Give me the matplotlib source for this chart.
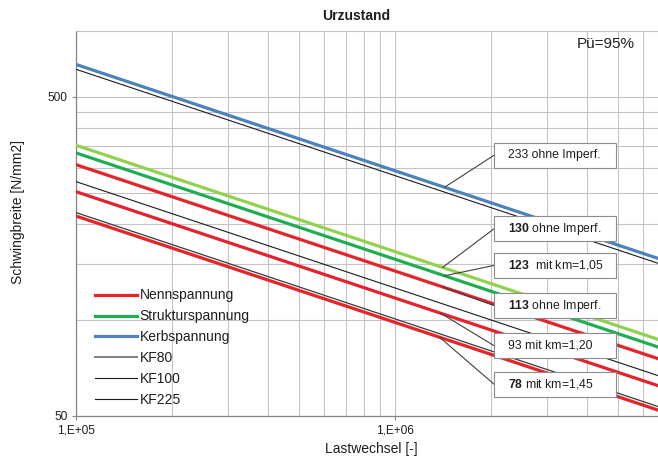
import numpy as np
import matplotlib
matplotlib.use('Agg')
import matplotlib.pyplot as plt
from matplotlib.lines import Line2D
from matplotlib.patches import Rectangle

plt.rcParams['font.family'] = 'Liberation Sans'
plt.rcParams['mathtext.fontset'] = 'custom'
plt.rcParams['mathtext.rm'] = 'Liberation Sans'
plt.rcParams['mathtext.bf'] = 'Liberation Sans:bold'

# Wöhlerlinien (m=3), Werte bei N = 1e5, 2e6, 1e7
cycles = [1e5, 2e6, 1e7]
kerb_233 = [632.4, 233, 136.3]
kf225 = [610.7, 225, 131.6]
struktur_130 = [352.9, 130, 76.0]
struktur_123 = [333.9, 123, 71.9]
nenn_113 = [306.7, 113, 66.1]
kf100 = [271.4, 100, 58.5]
nenn_93 = [252.4, 93, 54.4]
kf80 = [217.1, 80, 46.8]
nenn_78 = [211.7, 78, 45.6]

x_major = [1e5, 1e6]
x_major_labels = ['1,E+05', '1,E+06']
x_minor = [2e5, 3e5, 4e5, 5e5, 6e5, 7e5, 8e5, 9e5, 2e6, 3e6, 4e6, 5e6, 6e6]
y_major = [50, 500]
y_minor = [100, 150, 200, 250, 300, 350, 400, 450]

# Beschriftungen: (Text, Linie, N am Anschlusspunkt, Kasten y in Achsenanteilen)
notes = [
    (r'233 ohne Imperf.', kerb_233, 1.43e6, 0.677),
    (r'$\mathbf{130}$ ohne Imperf.', struktur_130, 1.41e6, 0.486),
    (r'$\mathbf{123}$  mit km=1,05', struktur_123, 1.43e6, 0.391),
    (r'$\mathbf{113}$ ohne Imperf.', nenn_113, 1.41e6, 0.287),
    (r'93 mit km=1,20', nenn_93, 1.39e6, 0.183),
    (r'$\mathbf{78}$ mit km=1,45', nenn_78, 1.38e6, 0.083),
]

RED = '#e4232a'
GREEN = '#1faf52'
LGREEN = '#92d050'
BLUE = '#4f81bd'
TXT = '#1e1e1e'

fig = plt.figure(figsize=(6.58, 4.59), dpi=100)
ax = fig.add_axes([76/658, 1-416/459, 582/658, 385/459])
ax.set_xscale('log')
ax.set_yscale('log')
ax.set_xlim(1e5, 6.676e6)
ax.set_ylim(50, 805)

lw = 2.3
ax.plot(cycles, kerb_233, color=BLUE, lw=lw, zorder=3)
ax.plot(cycles, kf225, color='#1a1a1a', lw=0.8, zorder=3)
ax.plot(cycles, struktur_130, color=LGREEN, lw=lw, zorder=3)
ax.plot(cycles, struktur_123, color=GREEN, lw=lw, zorder=3)
ax.plot(cycles, nenn_113, color=RED, lw=lw, zorder=3)
ax.plot(cycles, kf100, color='#1a1a1a', lw=0.8, zorder=3)
ax.plot(cycles, nenn_93, color=RED, lw=lw, zorder=3)
ax.plot(cycles, kf80, color='#3a3a3a', lw=0.9, zorder=3)
ax.plot(cycles, nenn_78, color=RED, lw=lw, zorder=3)

# Achsen und Gitter
ax.set_xticks(x_major)
ax.set_xticklabels(x_major_labels)
ax.set_xticks(x_minor, minor=True)
ax.set_yticks(y_major)
ax.set_yticklabels([str(v) for v in y_major])
ax.set_yticks(y_minor, minor=True)
ax.xaxis.set_minor_formatter(matplotlib.ticker.NullFormatter())
ax.yaxis.set_minor_formatter(matplotlib.ticker.NullFormatter())
ax.grid(True, which='both', color='#c4c4c4', lw=0.8, zorder=0)
ax.tick_params(which='major', length=3, width=0.8, color='#868686', labelsize=8.6,
               labelcolor=TXT, pad=3)
ax.tick_params(which='minor', length=0)
for s in ['left', 'bottom']:
    ax.spines[s].set_color('#868686')
    ax.spines[s].set_linewidth(0.9)
ax.spines['top'].set_color('#c4c4c4')
ax.spines['top'].set_linewidth(0.8)
ax.spines['right'].set_visible(False)

# Kästen mit Verbindungslinien
box_x, box_w, box_h = 0.718, 0.2096, 0.065
for text, line, n, by in notes:
    s = 10 ** np.interp(np.log10(n), np.log10(cycles), np.log10(line))
    ax.annotate('', xy=(n, s), xycoords='data', xytext=(box_x, by), textcoords='axes fraction',
                arrowprops=dict(arrowstyle='-', color='#404040', lw=0.8, shrinkA=0, shrinkB=0),
                zorder=4)
    ax.add_patch(Rectangle((box_x, by - box_h/2), box_w, box_h, transform=ax.transAxes,
                           facecolor='white', edgecolor='#8c8c8c', lw=0.8, zorder=5))
    ax.text(box_x + 0.024, by, text, transform=ax.transAxes, ha='left', va='center',
            fontsize=8.8, color=TXT, zorder=6)

ax.text(0.9605, 0.966, 'Pü=95%', transform=ax.transAxes, ha='right', va='center',
        fontsize=11, color=TXT)

handles = [
    Line2D([], [], color=RED, lw=lw),
    Line2D([], [], color=GREEN, lw=lw),
    Line2D([], [], color=BLUE, lw=lw),
    Line2D([], [], color='#7f7f7f', lw=1.4),
    Line2D([], [], color='#1a1a1a', lw=0.8),
    Line2D([], [], color='#1a1a1a', lw=0.8),
]
labels = ['Nennspannung', 'Strukturspannung', 'Kerbspannung', 'KF80', 'KF100', 'KF225']
leg = ax.legend(handles, labels, loc='lower left', bbox_to_anchor=(0.033, 0.023),
                frameon=False, fontsize=10, handlelength=3.0, handletextpad=0.2,
                labelspacing=0.5, borderpad=0, borderaxespad=0)
for t in leg.get_texts():
    t.set_color(TXT)

fig.text(356/658, 1-16/459, 'Urzustand', ha='center', va='center', fontsize=10,
         fontweight='bold', color=TXT)
fig.text(371/658, 1-449/459, 'Lastwechsel [-]', ha='center', va='center', fontsize=10, color=TXT)
fig.text(18/658, 1-212/459, 'Schwingbreite [N/mm2]', ha='center', va='center', fontsize=10,
         rotation=90, color=TXT)

fig.savefig('out.png', dpi=100)
